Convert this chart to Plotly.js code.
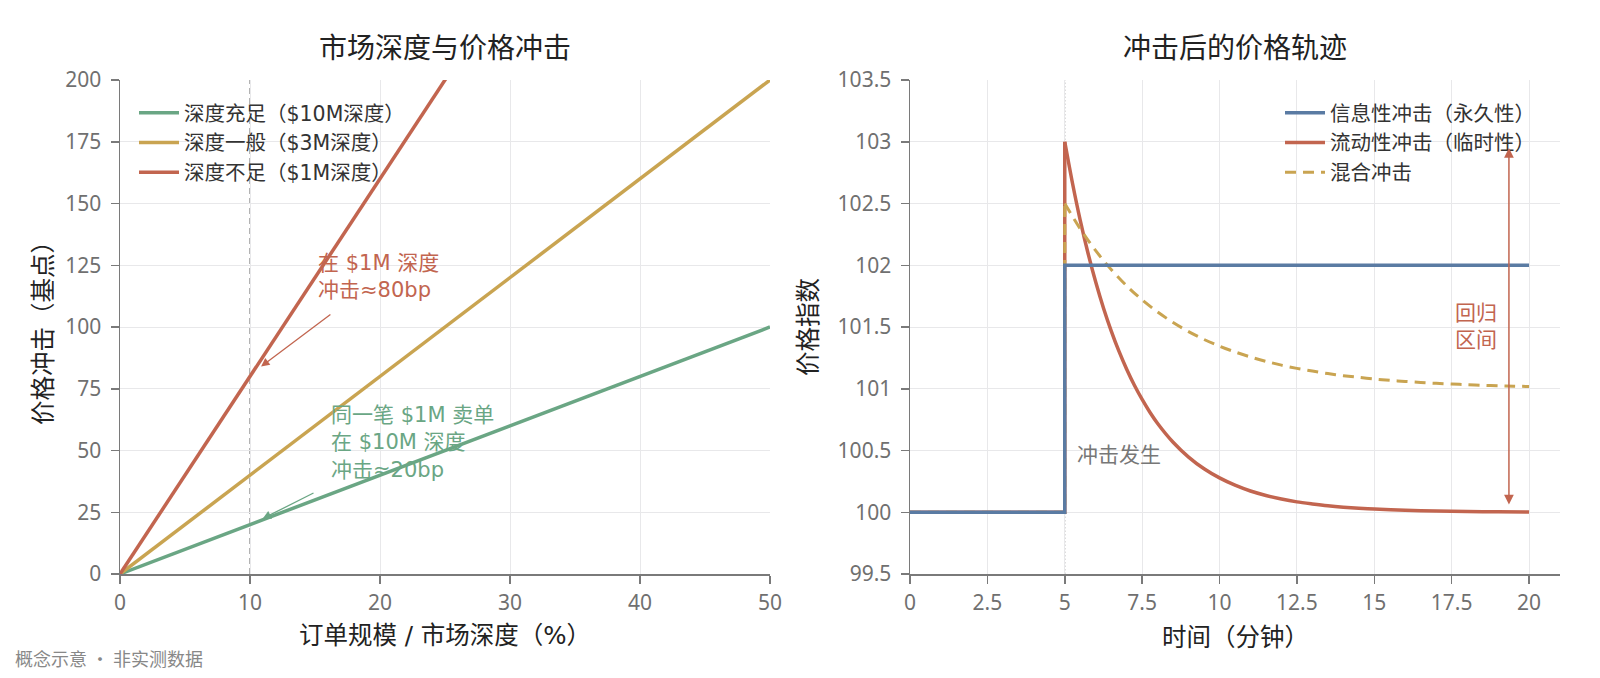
<!DOCTYPE html>
<html>
<head>
<meta charset="utf-8">
<script src="https://cdn.plot.ly/plotly-3.0.1.min.js"></script>
<style>html,body{margin:0;padding:0;background:#fff;}#chart{width:1600px;height:678px;}</style>
</head>
<body>
<div id="chart"></div>
<script>
// ---- Left panel data: order size / market depth (%) vs price impact (bp)
const orderPct     = [0, 10, 20, 30, 40, 50];
const impactDeep   = [0, 20, 40, 60, 80, 100];   // $10M depth
const impactMid    = [0, 40, 80, 120, 160, 200]; // $3M depth
const impactThin   = [0, 80, 160, 240, 320, 400];// $1M depth
const leftNames    = ['深度充足（$10M深度）', '深度一般（$3M深度）', '深度不足（$1M深度）'];

// ---- Right panel data: price index after the shock (minutes)
const infoTime  = [0, 5, 5, 20];
const infoPrice = [100, 100, 102, 102];
const liqTime   = [0, 5, 5, 5.25, 5.5, 5.75, 6, 6.25, 6.5, 6.75, 7, 7.25, 7.5, 7.75, 8, 8.5, 9, 9.5, 10, 10.5, 11, 11.5, 12, 12.5, 13, 13.5, 14, 14.5, 15, 16, 17, 18, 19, 20];
const liqPrice  = [100, 100, 103.000, 102.664, 102.364, 102.099, 101.864, 101.654, 101.469, 101.304, 101.158, 101.028, 100.913, 100.810, 100.719, 100.567, 100.447, 100.352, 100.278, 100.219, 100.172, 100.136, 100.107, 100.084, 100.067, 100.052, 100.041, 100.033, 100.026, 100.016, 100.010, 100.006, 100.004, 100.002];
const mixTime   = [0, 5, 5, 5.5, 6, 6.5, 7, 7.5, 8, 8.5, 9, 9.5, 10, 10.5, 11, 11.5, 12, 12.5, 13, 13.5, 14, 14.5, 15, 15.5, 16, 16.5, 17, 17.5, 18, 18.5, 19, 19.5, 20];
const mixPrice  = [100, 100, 102.500, 102.295, 102.118, 101.965, 101.833, 101.719, 101.621, 101.536, 101.463, 101.399, 101.345, 101.298, 101.257, 101.222, 101.191, 101.165, 101.143, 101.123, 101.106, 101.092, 101.079, 101.068, 101.059, 101.051, 101.044, 101.038, 101.033, 101.028, 101.024, 101.021, 101.018];
const rightNames = ['信息性冲击（永久性）', '流动性冲击（临时性）', '混合冲击'];

const refPct = 10;       // reference order size
const shockTime = 5;     // shock moment
const bandTime = 19.35;  // position of the reversion arrow

const C = {green:'#6aa684', gold:'#c9a451', red:'#c2654f', blue:'#5a7ba3', text:'#333', tick:'#707070', axis:'#7a7a7a', grid:'#e8e8ea'};
const FONT = 'Noto Sans CJK SC, Noto Sans, sans-serif';
const MIX  = 'DejaVu Sans, Noto Sans CJK SC, sans-serif';

// split the shocked series into the jump part (straight) and the decay part (smooth)
const JUMP = 3;
const liqLine = {color:C.red, width:3.5};
const mixLine = {color:C.gold, width:3, dash:'11px,7px'};

const traces = [
  {x: orderPct, y: impactDeep, name: leftNames[0], mode:'lines', line:{color:C.green, width:3.5}, xaxis:'x', yaxis:'y', legend:'legend', legendgroup:'a'},
  {x: orderPct, y: impactMid,  name: leftNames[1], mode:'lines', line:{color:C.gold, width:3.5}, xaxis:'x', yaxis:'y', legend:'legend', legendgroup:'b'},
  {x: orderPct, y: impactThin, name: leftNames[2], mode:'lines', line:{color:C.red, width:3.5}, xaxis:'x', yaxis:'y', legend:'legend', legendgroup:'c'},
  {x: liqTime.slice(0, JUMP), y: liqPrice.slice(0, JUMP), mode:'lines', line:liqLine, xaxis:'x2', yaxis:'y2', showlegend:false, legend:'legend2', legendgroup:'e'},
  {x: liqTime.slice(JUMP - 1), y: liqPrice.slice(JUMP - 1), name: rightNames[1], mode:'lines', line:Object.assign({shape:'spline', smoothing:0.8}, liqLine), xaxis:'x2', yaxis:'y2', legend:'legend2', legendrank:2, legendgroup:'e'},
  {x: mixTime.slice(0, JUMP), y: mixPrice.slice(0, JUMP), mode:'lines', line:mixLine, xaxis:'x2', yaxis:'y2', showlegend:false, legend:'legend2', legendgroup:'f'},
  {x: mixTime.slice(JUMP - 1), y: mixPrice.slice(JUMP - 1), name: rightNames[2], mode:'lines', line:Object.assign({shape:'spline', smoothing:0.8}, mixLine), xaxis:'x2', yaxis:'y2', legend:'legend2', legendrank:3, legendgroup:'f'},
  {x: infoTime, y: infoPrice, name: rightNames[0], mode:'lines', line:{color:C.blue, width:3.5}, xaxis:'x2', yaxis:'y2', legend:'legend2', legendrank:1, legendgroup:'d'}
];

const W = 1600, H = 678;
const yTop = 1 - 80/H, yBot = 1 - 574/H;

const axisCommon = {
  showline:true, linecolor:C.axis, linewidth:1.5, ticks:'outside', ticklen:8, tickwidth:1.5, tickcolor:C.axis,
  showgrid:true, gridcolor:C.grid, gridwidth:1, zeroline:false, automargin:false,
  tickfont:{family:'Noto Sans, sans-serif', size:21, color:C.tick}, mirror:false
};

const legendCommon = {
  font:{family:MIX, size:20.5, color:'#333'}, bgcolor:'rgba(255,255,255,0)', borderwidth:0,
  xanchor:'left', yanchor:'top', traceorder:'grouped', tracegroupgap:0, itemwidth:40
};

const layout = {
  width:W, height:H, paper_bgcolor:'#fff', plot_bgcolor:'#fff',
  margin:{l:0, r:0, t:0, b:0},
  font:{family:FONT, color:C.text},
  xaxis: Object.assign({}, axisCommon, {domain:[120/W, 770/W], range:[0, 50], dtick:10, anchor:'y', ticklabelstandoff:1}),
  yaxis: Object.assign({}, axisCommon, {domain:[yBot, yTop], range:[0, 200], dtick:25, anchor:'x', ticklabelstandoff:5}),
  xaxis2: Object.assign({}, axisCommon, {domain:[910/W, 1560/W], range:[0, 21], tick0:0, dtick:2.5, anchor:'y2', ticklabelstandoff:1}),
  yaxis2: Object.assign({}, axisCommon, {domain:[yBot, yTop], range:[99.5, 103.5], tick0:99.5, dtick:0.5, anchor:'x2', ticklabelstandoff:5}),
  legend: Object.assign({}, legendCommon, {x:134/W, y:1 - 93/H}),
  legend2: Object.assign({}, legendCommon, {x:1280/W, y:1 - 93/H}),
  shapes: [
    {type:'line', xref:'x', yref:'y domain', x0:refPct, x1:refPct, y0:0, y1:1, line:{color:'#9a9a9a', width:1.5, dash:'6px,4px'}, layer:'below'},
    {type:'line', xref:'x2', yref:'y2 domain', x0:shockTime, x1:shockTime, y0:0, y1:1, line:{color:'#777', width:1, dash:'1.5px,2px'}, layer:'below'}
  ],
  annotations: [
    // panel titles
    {text:'市场深度与价格冲击', xref:'paper', yref:'paper', x:445/W, y:1 - 46/H, xanchor:'center', yanchor:'middle', showarrow:false, font:{family:FONT, size:28, color:'#222'}},
    {text:'冲击后的价格轨迹', xref:'paper', yref:'paper', x:1235/W, y:1 - 46/H, xanchor:'center', yanchor:'middle', showarrow:false, font:{family:FONT, size:28, color:'#222'}},
    // axis titles
    {text:'订单规模 / 市场深度（%）', xref:'paper', yref:'paper', x:445/W, y:1 - 635/H, xanchor:'center', yanchor:'middle', showarrow:false, font:{family:MIX, size:24.5, color:'#222'}},
    {text:'价格冲击（基点）', xref:'paper', yref:'paper', x:41/W, y:1 - 327/H, xanchor:'center', yanchor:'middle', textangle:-90, showarrow:false, font:{family:FONT, size:24.5, color:'#222'}},
    {text:'时间（分钟）', xref:'paper', yref:'paper', x:1235/W, y:1 - 635/H, xanchor:'center', yanchor:'middle', showarrow:false, font:{family:FONT, size:24.5, color:'#222'}},
    {text:'价格指数', xref:'paper', yref:'paper', x:806/W, y:1 - 327/H, xanchor:'center', yanchor:'middle', textangle:-90, showarrow:false, font:{family:FONT, size:24.5, color:'#222'}},
    // left panel notes
    {text:'', xref:'x', yref:'y', x:10.85, y:84, axref:'x', ayref:'y', ax:16.3, ay:105.5, showarrow:true, arrowhead:2, arrowsize:1.3, arrowwidth:1.3, arrowcolor:C.red},
    {text:'在 $1M 深度<br>冲击≈80bp', xref:'x', yref:'y', x:15.1, y:120.4, xanchor:'left', yanchor:'middle', align:'left', showarrow:false, font:{family:MIX, size:21, color:C.red}},
    {text:'', xref:'x', yref:'y', x:10.97, y:22.4, axref:'x', ayref:'y', ax:15.0, ay:33.1, showarrow:true, arrowhead:2, arrowsize:1.3, arrowwidth:1.3, arrowcolor:C.green},
    {text:'同一笔 $1M 卖单<br>在 $10M 深度<br>冲击≈20bp', xref:'x', yref:'y', x:16.08, y:53.4, xanchor:'left', yanchor:'middle', align:'left', showarrow:false, font:{family:MIX, size:21, color:C.green}},
    // right panel notes
    {text:'冲击发生', xref:'x2', yref:'y2', x:5.32, y:100.48, xanchor:'left', yanchor:'middle', showarrow:false, font:{family:FONT, size:21, color:'#777'}},
    {text:'', xref:'x2', yref:'y2', x:bandTime, y:102.95, axref:'x2', ayref:'y2', ax:bandTime, ay:100.05, showarrow:true, arrowside:'end+start', arrowhead:2, arrowsize:1.3, arrowwidth:1.5, arrowcolor:C.red},
    {text:'回归<br>区间', xref:'x2', yref:'y2', x:18.29, y:101.52, xanchor:'center', yanchor:'middle', align:'center', showarrow:false, font:{family:FONT, size:21, color:C.red}},
    // footer
    {text:'概念示意 · 非实测数据', xref:'paper', yref:'paper', x:13/W, y:1 - 658/H, xanchor:'left', yanchor:'middle', showarrow:false, font:{family:FONT, size:18, color:'#888'}}
  ]
};

Plotly.newPlot('chart', traces, layout, {displayModeBar:false, responsive:false, staticPlot:true});
</script>
</body>
</html>
